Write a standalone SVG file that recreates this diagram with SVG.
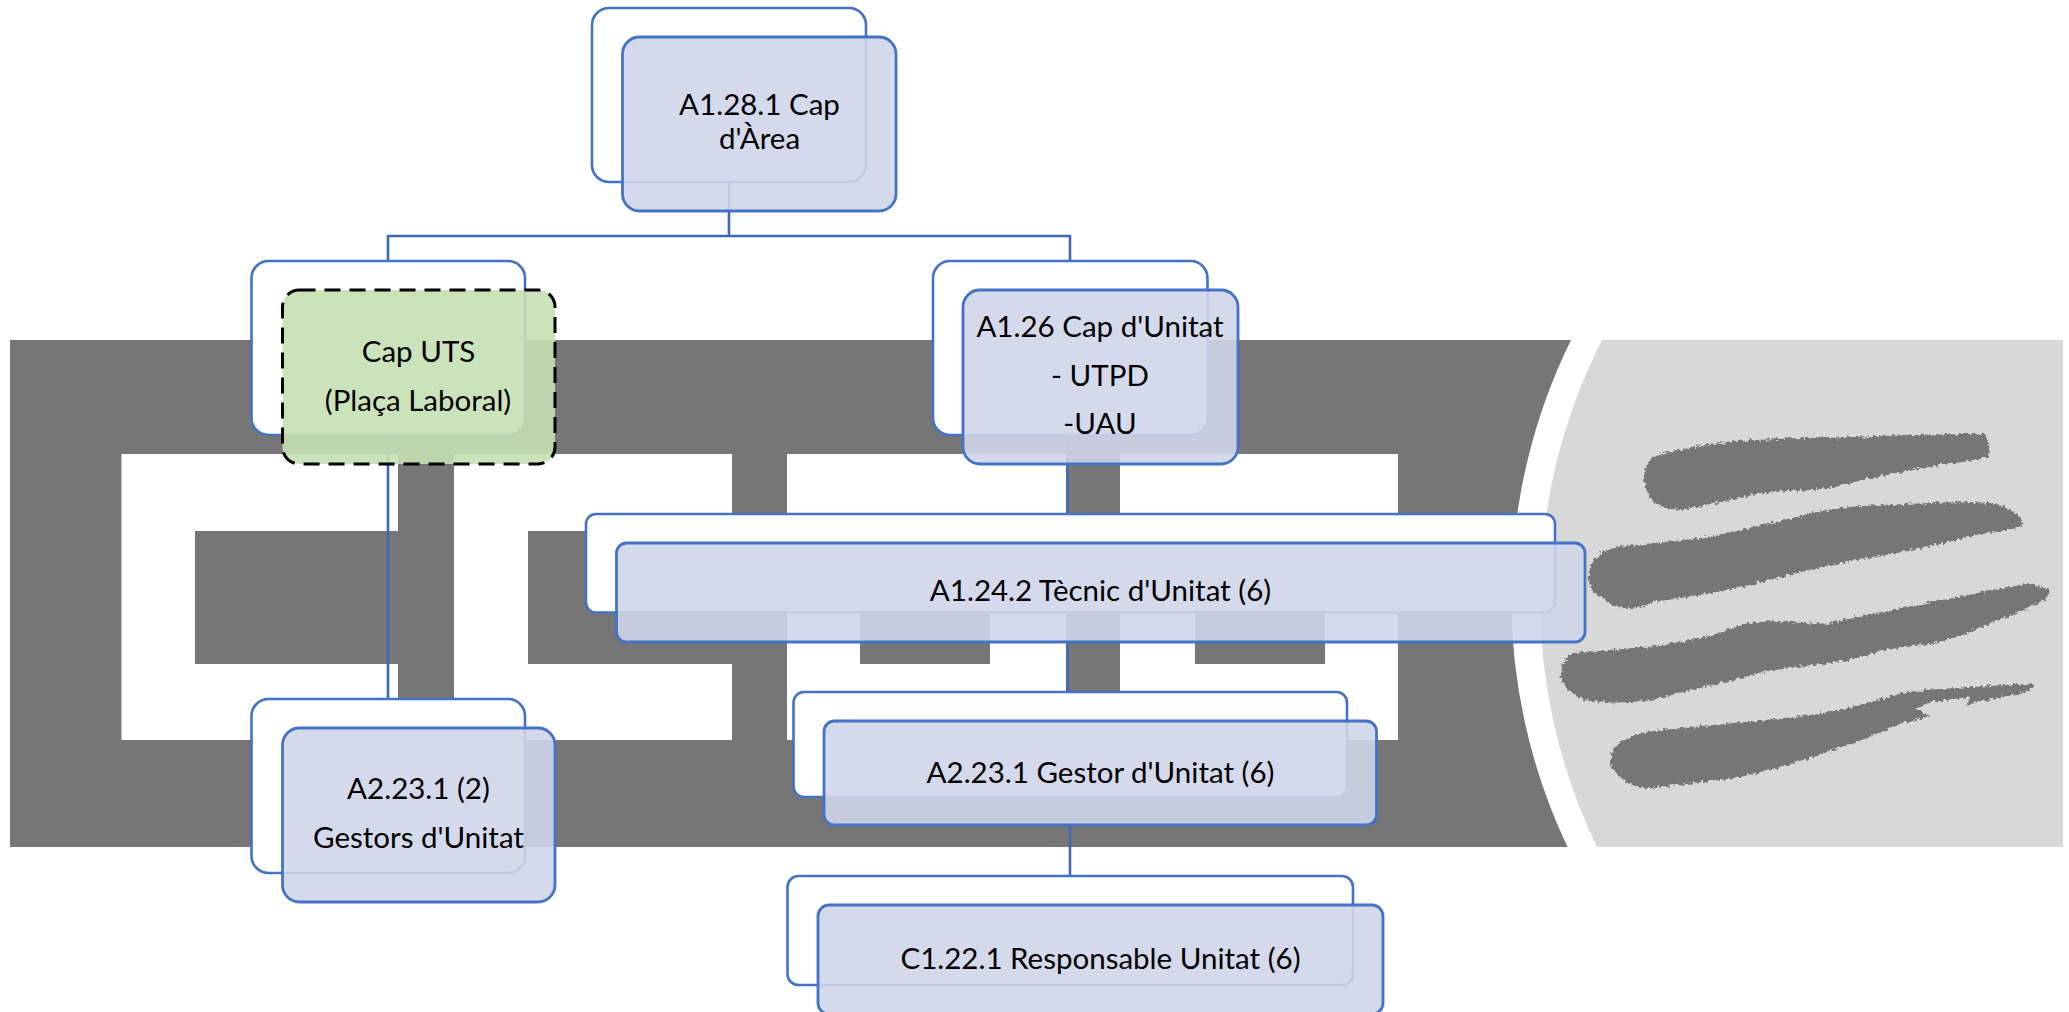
<svg xmlns="http://www.w3.org/2000/svg" width="2069" height="1012" viewBox="0 0 2069 1012">
<style>
.back{fill:#fff;stroke:#4472C4;stroke-width:2.6}
.front{fill:#CFD5EA;fill-opacity:.9;stroke:#4472C4;stroke-width:2.8}
.green{fill:#C5E0B4;fill-opacity:.9;stroke:#000;stroke-width:3;stroke-dasharray:16 9}
.conn{fill:none;stroke:#3F69B5;stroke-width:2.6}
text{font-family:"Lato","Open Sans","Liberation Sans",sans-serif;font-size:29.5px;fill:#000;text-anchor:middle}
.dark{fill:#767676}
.white{fill:#fff}
</style>
<defs>
<filter id="rough" x="-5%" y="-20%" width="110%" height="140%" color-interpolation-filters="sRGB">
<feTurbulence type="fractalNoise" baseFrequency="0.3" numOctaves="2" seed="4"/>
<feDisplacementMap in="SourceGraphic" scale="7" xChannelSelector="R" yChannelSelector="G"/>
</filter>
</defs>
<rect width="2069" height="1012" fill="#fff"/>
<g id="background">
<path fill="#D8D8D8" d="M1602,340H2063V847H1597A570,570 0 0 1 1602,340Z"/>
<path class="dark" d="M10,340H1571A583,583 0 0 0 1567.500,847H10Z"/>
<path class="white" d="M121.500,454H398V531H195V664H398V740H121.500Z"/>
<path class="white" d="M454,454H732V531H528V664H732V740H454Z"/>
<path class="white" fill-rule="evenodd" d="M787,454H1066V740H787ZM860,531V664H990V531Z"/>
<path class="white" fill-rule="evenodd" d="M1120,454H1398V740H1120ZM1195,531V664H1325V531Z"/>
<g class="dark" filter="url(#rough)">
<path d="M1644,477C1644,466 1650,458 1658,455C1680,448 1710,445 1735,441C1780,438 1820,438 1852,437C1900,435 1950,434 1984,434C1989,438 1990,446 1989,450C1989,454 1988,457 1986,458C1970,461 1955,463 1940,465C1915,470 1890,474 1867,479C1850,484 1830,488 1812,490C1795,491 1775,491 1757,494C1730,500 1705,505 1683,510C1675,510 1665,508 1658,505C1652,501 1648,497 1647,490C1645,486 1644,481 1644,477Z"/>
<path d="M1589,575C1589,565 1596,555 1606,551C1615,547 1625,545 1636,545C1665,542 1695,539 1720,535C1745,529 1770,523 1793,518C1810,513 1830,509 1848,507C1890,504 1930,503 1969,502C1980,502 1990,503 1995,504C2008,506 2017,513 2023,522C2023,525 2021,527 2018,528C2006,530 1992,532 1977,535C1952,541 1928,547 1903,552C1880,556 1855,560 1830,565C1795,574 1760,582 1727,590C1702,595 1678,598 1654,602C1645,606 1635,608 1625,608C1616,607 1609,603 1603,599C1598,596 1594,593 1591,588C1589,584 1589,579 1589,575Z"/>
<path d="M1561,675C1561,664 1565,657 1573,653C1598,651 1622,649 1647,647C1670,644 1692,640 1713,635C1725,630 1738,626 1749,623C1765,621 1778,621 1793,622C1806,623 1818,625 1830,623C1862,616 1892,610 1922,604C1958,597 1992,590 2024,584C2034,584 2044,587 2050,590L2048,598C2038,603 2026,609 2014,614C1990,624 1965,634 1940,642C1922,646 1903,646 1885,650C1872,654 1860,657 1848,660C1820,665 1792,667 1764,672C1737,679 1710,686 1683,692C1665,697 1647,702 1628,702C1614,703 1600,703 1588,700C1580,698 1573,695 1569,691C1564,686 1561,680 1561,675Z"/>
<path d="M1611,762C1611,751 1616,744 1625,739C1634,735 1644,732 1654,731C1688,727 1722,724 1757,721C1782,718 1806,716 1830,712C1855,707 1880,699 1903,693C1920,690 1938,689 1955,688C1972,687 1990,686 2006,685C2016,684 2028,684 2036,685C2031,689 2026,692 2021,693C2006,696 1992,699 1977,702L1967,706L1970,697C1957,698 1945,700 1933,702L1915,708L1931,717C1922,719 1912,721 1903,723C1891,728 1879,733 1867,738C1842,747 1818,756 1793,763C1774,769 1754,774 1735,778C1706,782 1676,785 1647,788C1640,787 1634,786 1628,783C1624,780 1620,777 1616,773C1613,769 1611,766 1611,762Z"/>
</g>
</g>
<g id="connectors">
<path class="conn" d="M729,182V236M388,260V236H1070V260M388,435V699M1067.500,435V514M1067.500,642V692M1070,825V876"/>
</g>
<g id="node-a1281">
<rect class="back" x="592" y="8" width="274" height="174" rx="17" ry="17"/>
<rect class="front" x="622.500" y="37" width="273.500" height="174" rx="17" ry="17"/>
<text x="759.500" y="115">A1.28.1 Cap</text>
<text x="759.500" y="149">d'Àrea</text>
</g>
<g id="node-cap-uts">
<rect class="back" x="251.500" y="261" width="273.500" height="174" rx="17" ry="17"/>
<rect class="green" x="282.500" y="290" width="272.500" height="174" rx="17" ry="17"/>
<text x="418.500" y="362">Cap UTS</text>
<text x="418" y="411">(Plaça Laboral)</text>
</g>
<g id="node-a126">
<rect class="back" x="933" y="261" width="274.500" height="174" rx="17" ry="17"/>
<rect class="front" x="963" y="290" width="275" height="174" rx="17" ry="17"/>
<text x="1100" y="337">A1.26 Cap d'Unitat</text>
<text x="1100" y="386">- UTPD</text>
<text x="1100" y="434">-UAU</text>
</g>
<g id="node-a1242">
<rect class="back" x="586" y="514" width="969" height="98.500" rx="10" ry="10"/>
<rect class="front" x="616.500" y="543" width="968.500" height="99" rx="10" ry="10"/>
<text x="1100.500" y="601">A1.24.2 Tècnic d'Unitat (6)</text>
</g>
<g id="node-a2231-gestor">
<rect class="back" x="793.500" y="692" width="553.500" height="105" rx="10.500" ry="10.500"/>
<rect class="front" x="824" y="721" width="552.500" height="104" rx="10.500" ry="10.500"/>
<text x="1100.500" y="782.700">A2.23.1 Gestor d'Unitat (6)</text>
</g>
<g id="node-c1221">
<rect class="back" x="787.500" y="876" width="565.500" height="109" rx="11" ry="11"/>
<rect class="front" x="818" y="905" width="565" height="109" rx="11" ry="11"/>
<text x="1100.500" y="968.700">C1.22.1 Responsable Unitat (6)</text>
</g>
<g id="node-a2231-2">
<rect class="back" x="251.500" y="699" width="273.500" height="174" rx="17" ry="17"/>
<rect class="front" x="282.500" y="728" width="272.500" height="174" rx="17" ry="17"/>
<text x="418.500" y="798.700">A2.23.1 (2)</text>
<text x="418.500" y="847.700">Gestors d'Unitat</text>
</g>
</svg>
